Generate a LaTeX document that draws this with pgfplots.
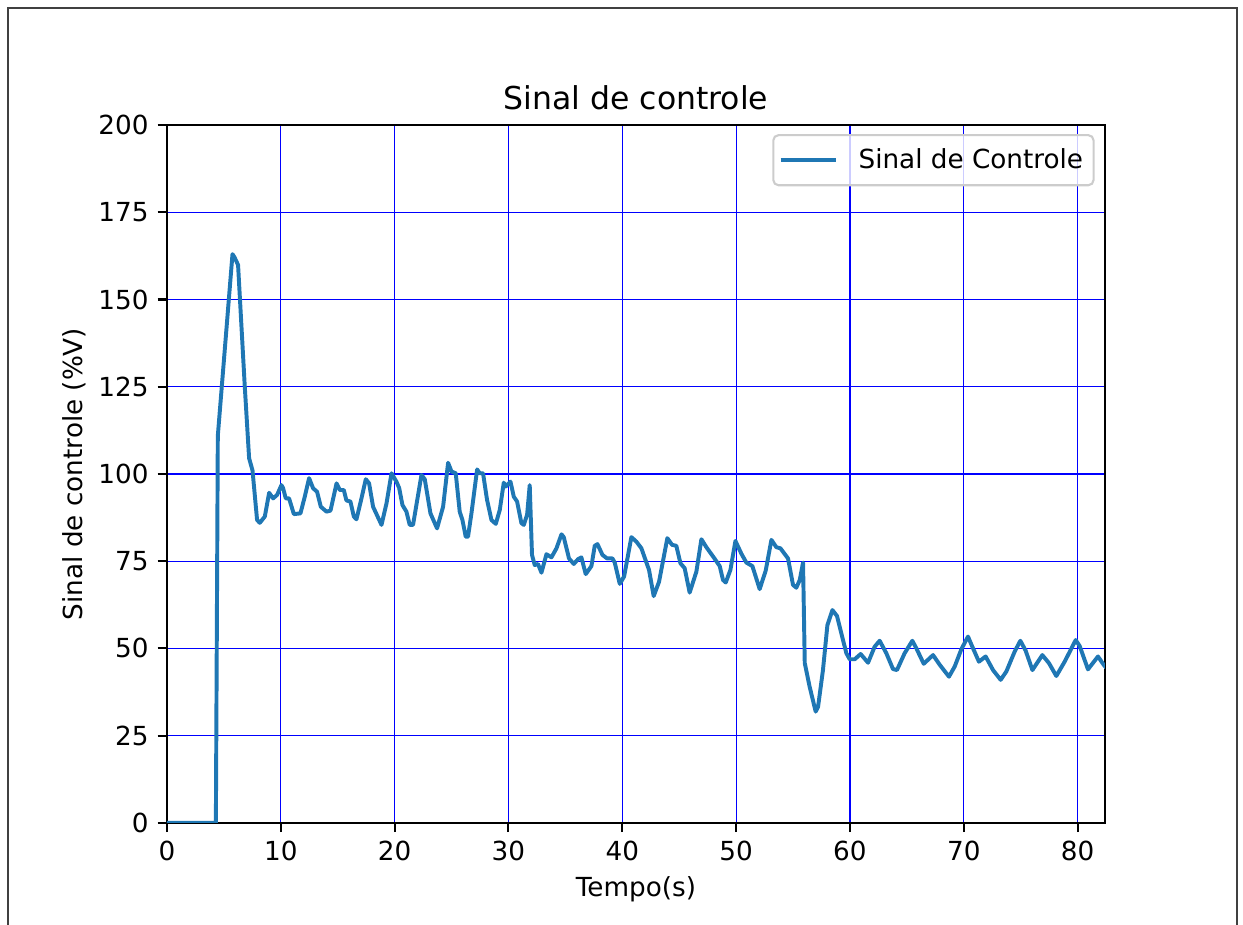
\documentclass[border=0pt]{standalone}
\usepackage{fontspec}
\setmainfont{DejaVu Sans}
\usepackage{pgfplots}
\pgfplotsset{compat=1.18}
\definecolor{mplblue}{HTML}{1F77B4}
\begin{document}
\begin{tikzpicture}
\path[use as bounding box] (0,0) rectangle (473.6pt,352.4pt);
\draw[black!75, line width=0.6pt] (3.05pt,0) -- (3.05pt,349.4pt) -- (471.3pt,349.4pt) -- (471.3pt,0);
\begin{axis}[
  at={(63.6pt,38.86pt)}, anchor=south west,
  scale only axis, width=357.4pt, height=265.9pt,
  xmin=0, xmax=82.4, ymin=0, ymax=200,
  xtick={0,10,...,80}, ytick={0,25,...,200},
  grid=major, major grid style={blue, line width=0.45pt},
  axis line style={black, line width=0.8pt},
  tick pos=left, tick align=outside, major tick length=3.5pt,
  every tick/.style={black, line width=0.8pt},
  font=\fontsize{10}{12}\selectfont,
  /pgf/number format/assume math mode=true,
  title={Sinal de controle},
  title style={font=\fontsize{12}{14}\selectfont, at={(axis description cs:0.5,1)}, anchor=base, yshift=0pt},
  xlabel={Tempo(s)},
  xlabel style={at={([yshift=-28.2pt]axis description cs:0.5,0)}, anchor=base},
  ylabel={Sinal de controle (\%V)},
  ylabel style={at={([xshift=-32pt]axis description cs:0,0.5)}, anchor=base, rotate=0},
  legend style={at={(axis description cs:0.989,0.987)}, anchor=north east,
    draw=black!20, line width=0.8pt, fill=white, fill opacity=0.8, text opacity=1,
    rounded corners=2pt, inner xsep=2pt, inner ysep=3pt, column sep=6pt,
    font=\fontsize{10}{12}\selectfont},
  legend cell align=left,
  legend image code/.code={\draw[#1, line width=1.5pt] (0pt,0pt) -- (21pt,0pt);},
]
\addplot[mplblue, line width=1.5pt, line join=round, mark=none] coordinates {
(0,0) (4.3,0) (4.47,110.9) (5.76,163) (5.95,162) (6.25,159.9) (6.84,125) (7.22,104.5) (7.52,101) (7.92,86.8) (8.16,86) (8.6,87.8) (8.98,94.6) (9.33,93) (9.68,94) (10.06,96.8) (10.2,96) (10.44,93) (10.73,93) (11.15,88.5) (11.73,88.7) (12.11,93.5) (12.49,98.8) (12.84,95.9) (13.19,94.9) (13.52,90.6) (14.02,89.2) (14.37,89.5) (14.9,97.3) (15.19,95.4) (15.54,95.4) (15.77,92.4) (16.12,92.1) (16.42,87.8) (16.65,87) (17.09,93) (17.47,98.5) (17.76,97.3) (18.11,90.6) (18.85,85.4) (19.29,91.6) (19.73,100.2) (20.16,97.8) (20.4,96) (20.69,91.1) (21.04,89.2) (21.33,85.4) (21.62,85.4) (22.36,99.7) (22.65,98.5) (23.15,88.7) (23.73,84.4) (24.26,90.6) (24.7,103.2) (25.0,100.7) (25.37,100.2) (25.72,89.2) (25.96,86.8) (26.25,82) (26.45,82) (26.75,88.7) (27.25,101.3) (27.48,100.2) (27.77,100.2) (28.12,92.6) (28.51,86.8) (28.89,85.7) (29.24,89.7) (29.59,97.5) (29.76,96.4) (30.18,97.8) (30.47,93.5) (30.76,92.1) (31.14,85.9) (31.35,85.4) (31.64,88.3) (31.87,96.8) (32.07,76.8) (32.31,73.9) (32.6,74.2) (32.9,71.7) (33.34,77) (33.78,76.1) (34.22,78.7) (34.66,82.7) (34.86,81.9) (35.32,75.8) (35.74,74.2) (36.12,75.6) (36.41,76.1) (36.79,71.3) (37.29,73.6) (37.58,79.4) (37.82,79.9) (38.26,76.8) (38.66,75.8) (39.13,75.8) (39.34,74.6) (39.78,68.5) (40.16,70.6) (40.8,81.9) (41.24,80.6) (41.68,78.7) (42.35,72.5) (42.76,65) (43.23,69.1) (43.96,81.6) (44.37,79.7) (44.75,79.4) (45.11,74.4) (45.48,73) (45.92,66) (46.51,72) (46.95,81.3) (47.39,79) (48.03,76.1) (48.56,73.6) (48.85,69.6) (49.09,68.9) (49.5,72.5) (49.94,80.8) (50.47,77.1) (50.9,74.6) (51.43,73.6) (52.07,67) (52.6,72.3) (53.1,81.1) (53.54,79) (53.89,78.7) (54.56,75.8) (55.0,68.2) (55.29,67.4) (55.59,69.6) (55.88,74.6) (56.03,45.8) (56.46,39) (56.99,31.9) (57.2,33.3) (57.63,43.8) (58.02,56.7) (58.46,61) (58.86,59.3) (59.39,52.4) (59.69,48.6) (59.98,46.9) (60.42,46.9) (60.94,48.4) (61.59,45.9) (62.17,50.5) (62.61,52.2) (63.2,48.6) (63.78,44.1) (64.13,43.8) (64.8,48.6) (65.48,52.2) (65.84,50) (66.48,45.6) (67.3,48.1) (67.89,45.3) (68.7,41.9) (69.2,44.8) (69.79,49.8) (70.37,53.4) (70.75,50.5) (71.33,46.2) (71.92,47.7) (72.57,43.8) (73.24,41) (73.74,43.4) (74.47,49.1) (74.97,52.2) (75.43,49.4) (76.03,43.8) (76.9,48.1) (77.48,45.8) (78.13,42.1) (78.86,46.2) (79.83,52.4) (80.18,50.7) (80.91,44) (81.79,47.7) (82.29,45.3) (82.5,44.5)
};
\addlegendentry{Sinal de Controle}
\end{axis}
\end{tikzpicture}
\end{document}
